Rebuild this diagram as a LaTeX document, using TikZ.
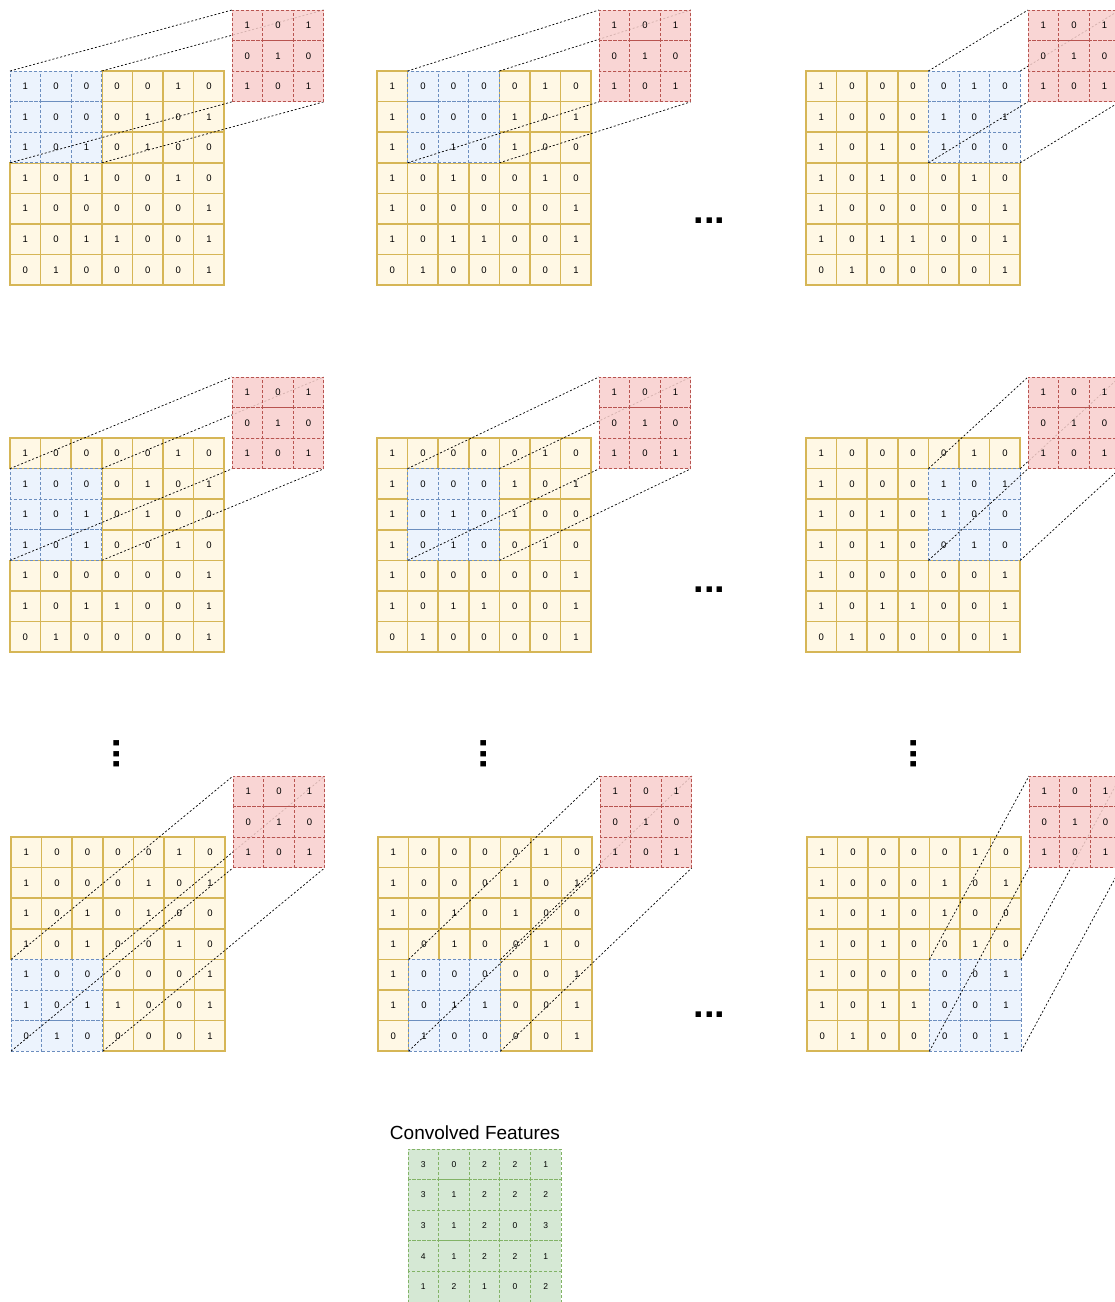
\documentclass[tikz,border=0pt]{standalone}
\usepackage{fontspec}
\setmainfont{Liberation Sans}
\usepackage{xcolor}
\usepackage{tikz}
\usetikzlibrary{positioning}
\definecolor{inyellow}{RGB}{255,248,229}
\definecolor{inyellowline}{RGB}{214,182,86}
\definecolor{winblue}{RGB}{236,243,253}
\definecolor{winblueline}{RGB}{108,142,191}
\definecolor{kernred}{RGB}{248,206,204}
\definecolor{kernredline}{RGB}{184,84,80}
\definecolor{featgreen}{RGB}{213,232,212}
\definecolor{featgreenline}{RGB}{130,179,102}
\pgfdeclarelayer{kernlayer}
\pgfsetlayers{main,kernlayer}

\newcommand{\cellsz}{30.6}
\newcommand{\inputrows}{{1,0,0,0,0,1,0},{1,0,0,0,1,0,1},{1,0,1,0,1,0,0},{1,0,1,0,0,1,0},{1,0,0,0,0,0,1},{1,0,1,1,0,0,1},{0,1,0,0,0,0,1}}
\newcommand{\kernelrows}{{1,0,1},{0,1,0},{1,0,1}}
\newcommand{\featrows}{{3,0,2,2,1},{3,1,2,2,2},{3,1,2,0,3},{4,1,2,2,1},{1,2,1,0,2}}

% #1 name, #2 #3 top left of the input, #4 #5 row and column of the window
\newcommand{\convpanel}[5]{%
  \foreach \vals [count=\j from 0] in \inputrows {
    \foreach \v [count=\i from 0] in \vals {
      \pgfmathtruncatemacro\inwin{(\j>=#4)&&(\j<#4+3)&&(\i>=#5)&&(\i<#5+3)}
      \ifnum\inwin=0
        \node[incell] (#1-\j-\i) at ({#2+(\i+0.5)*\cellsz},{#3+(\j+0.5)*\cellsz}) {\v};
      \fi
    }
  }
  \foreach \vals [count=\j from 0] in \inputrows {
    \foreach \v [count=\i from 0] in \vals {
      \pgfmathtruncatemacro\inwin{(\j>=#4)&&(\j<#4+3)&&(\i>=#5)&&(\i<#5+3)}
      \ifnum\inwin=1
        \node[wincell] (#1-\j-\i) at ({#2+(\i+0.5)*\cellsz},{#3+(\j+0.5)*\cellsz}) {\v};
      \fi
    }
  }
  \begin{pgfonlayer}{kernlayer}
  \foreach \vals [count=\j from 0] in \kernelrows {
    \foreach \v [count=\i from 0] in \vals {
      \node[kercell] (#1k-\j-\i) at ({#2+222+(\i+0.5)*\cellsz},{#3-61+(\j+0.5)*\cellsz}) {\v};
    }
  }
  \end{pgfonlayer}
  \pgfmathtruncatemacro\wlr{#4+2}
  \pgfmathtruncatemacro\wlc{#5+2}
  \draw[link] (#1-#4-#5.north west) -- (#1k-0-0.north west);
  \draw[link] (#1-#4-\wlc.north east) -- (#1k-0-2.north east);
  \draw[link] (#1-\wlr-#5.south west) -- (#1k-2-0.south west);
  \draw[link] (#1-\wlr-\wlc.south east) -- (#1k-2-2.south east);
}

\begin{document}
\begin{tikzpicture}[x=1pt, y=-1pt,
  cellbase/.style={minimum size=\cellsz pt, inner sep=0pt, outer sep=0pt, font=\fontsize{9.5}{10}\selectfont},
  incell/.style={cellbase, draw=inyellowline, fill=inyellow, line width=1.5pt},
  wincell/.style={cellbase, draw=winblueline, fill=winblue, dash pattern=on 3pt off 2pt, line width=0.8pt},
  kercell/.style={cellbase, draw=kernredline, fill=kernred, fill opacity=0.85, text opacity=1, dash pattern=on 3pt off 2pt, line width=0.8pt},
  featcell/.style={cellbase, draw=featgreenline, fill=featgreen, dash pattern=on 3pt off 2pt, line width=0.8pt, font=\fontsize{8.5}{9}\selectfont},
  link/.style={draw=black, line width=0.7pt, dash pattern=on 2pt off 2pt},
  moredots/.style={inner sep=0pt, font=\fontsize{38}{38}\selectfont\bfseries},
  title/.style={font=\fontsize{19}{20}\selectfont}]
\convpanel{a1}{10}{71}{0}{0}
\convpanel{a2}{377}{71}{0}{1}
\convpanel{a3}{806}{71}{0}{4}
\convpanel{b1}{10}{438}{1}{0}
\convpanel{b2}{377}{438}{1}{1}
\convpanel{b3}{806}{438}{1}{4}
\convpanel{c1}{11}{837}{4}{0}
\convpanel{c2}{378}{837}{4}{1}
\convpanel{c3}{807}{837}{4}{4}
\node[moredots] (hdotsa) at (709.5,221) {...};
\node[moredots] (hdotsb) at (709.5,590) {...};
\node[moredots] (hdotsc) at (709.5,1015) {...};
\node[moredots, rotate=90] (vdots1) at (116.5,754) {...};
\node[moredots, rotate=90] (vdots2) at (484,754) {...};
\node[moredots, rotate=90] (vdots3) at (914,754) {...};
\foreach \vals [count=\j from 0] in \featrows {
  \foreach \v [count=\i from 0] in \vals {
    \node[featcell] (f-\j-\i) at ({408+(\i+0.5)*\cellsz},{1149+(\j+0.5)*\cellsz}) {\v};
  }
}
\node[title] (feattitle) at (475,1133) {Convolved Features};
\pgfresetboundingbox
\useasboundingbox (0,0) rectangle (1115,1302);
\end{tikzpicture}
\end{document}
